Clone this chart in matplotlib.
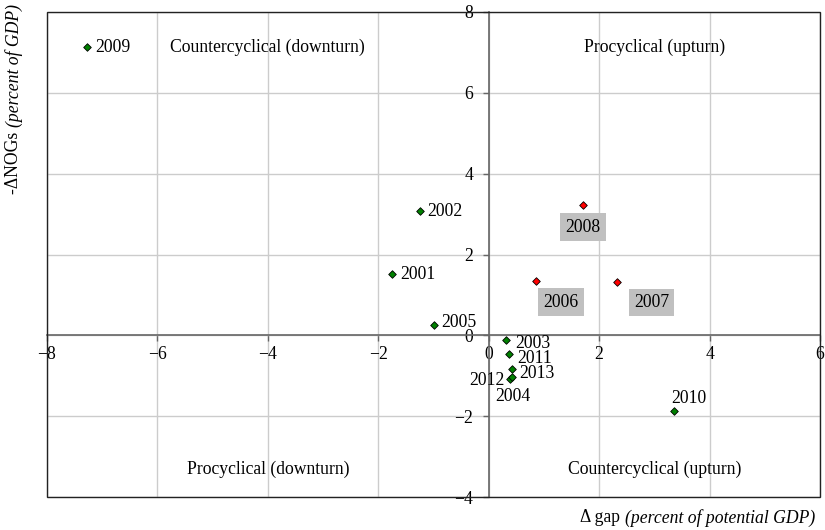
import matplotlib
matplotlib.use("Agg")
import matplotlib.pyplot as plt
from matplotlib.patches import Rectangle
from matplotlib.transforms import offset_copy

plt.rcParams['font.family'] = ['Liberation Serif', 'DejaVu Serif']

FS = 12.7

# data
years_green = ["2009", "2002", "2001", "2005", "2003", "2011", "2013", "2012", "2004", "2010"]
gap_green = [-7.27, -1.25, -1.75, -1.0, 0.32, 0.37, 0.42, 0.38, 0.43, 3.35]
nogs_green = [7.13, 3.07, 1.51, 0.25, -0.12, -0.47, -0.84, -1.08, -1.02, -1.88]

years_red = ["2006", "2007", "2008"]
gap_red = [0.85, 2.33, 1.71]
nogs_red = [1.34, 1.31, 3.22]

x_ticks = [-8, -6, -4, -2, 0, 2, 4, 6]
y_ticks = [-4, -2, 0, 2, 4, 6, 8]

quadrants = [
    ("Countercyclical (downturn)", -4.0, 7.13),
    ("Procyclical (upturn)", 3.0, 7.13),
    ("Procyclical (downturn)", -4.0, -3.32),
    ("Countercyclical (upturn)", 3.0, -3.32),
]

# label placement (pixel offsets, alignment)
green_offsets = {
    "2009": (8, 0, "left"), "2002": (8, 0, "left"), "2001": (8, 0, "left"),
    "2005": (8, 3, "left"), "2003": (9, -3, "left"), "2011": (8, -4, "left"),
    "2013": (7, -4, "left"), "2012": (-5, -2, "right"), "2004": (0, -20, "center"),
    "2010": (-2, 13, "left"),
}
red_offsets = {"2006": (25, -21), "2007": (34, -20), "2008": (0, -22)}

fig = plt.figure(figsize=(8.25, 5.3), dpi=100)
ax = fig.add_axes([47 / 825, 1 - 497 / 530, 773 / 825, 485 / 530])
ax.set_xlim(-8, 6)
ax.set_ylim(-4, 8)
ax.set_xticks(x_ticks)
ax.set_yticks(y_ticks)
ax.set_xticklabels([f"\u2212{abs(t)}" if t < 0 else str(t) for t in x_ticks])
ax.set_yticklabels([f"\u2212{abs(t)}" if t < 0 else str(t) for t in y_ticks])
ax.grid(True, color="#cccccc", lw=1)
ax.set_axisbelow(True)

for side in ["left", "bottom"]:
    ax.spines[side].set_position(("data", 0))
    ax.spines[side].set_color("#666666")
    ax.spines[side].set_linewidth(1.2)
for side in ["top", "right"]:
    ax.spines[side].set_visible(False)
ax.add_patch(Rectangle((0, 0), 1, 1, transform=ax.transAxes, fill=False,
                       ec="#222222", lw=1, clip_on=False, zorder=5))
ax.tick_params(axis="both", labelsize=FS, length=4, color="#666666", width=1)
ax.tick_params(axis="y", pad=7)

ax.scatter(gap_green, nogs_green, marker="D", s=15, c="#008000",
           edgecolors="black", linewidths=0.6, zorder=4)
ax.scatter(gap_red, nogs_red, marker="D", s=15, c="#ff0000",
           edgecolors="black", linewidths=0.6, zorder=4)

for yr, x, y in zip(years_green, gap_green, nogs_green):
    dx, dy, ha = green_offsets[yr]
    ax.annotate(yr, (x, y), xytext=(dx, dy), textcoords="offset pixels",
                ha=ha, va="center", fontsize=FS)

for yr, x, y in zip(years_red, gap_red, nogs_red):
    dx, dy = red_offsets[yr]
    ax.annotate(yr, (x, y), xytext=(dx, dy), textcoords="offset pixels",
                ha="center", va="center", fontsize=FS,
                bbox=dict(boxstyle="square,pad=0.3", fc="#c0c0c0", ec="none"))

for txt, x, y in quadrants:
    ax.text(x, y, txt, ha="center", va="center", fontsize=FS)

# axis titles: plain part + italic part
renderer = fig.canvas.get_renderer()

yl_it = fig.text(14 / 825, 1 - 4 / 530, "(percent of GDP)", style="italic",
                 rotation=90, ha="center", va="top", fontsize=FS)
h = yl_it.get_window_extent(renderer).height
fig.text(14 / 825, 1 - 4 / 530, "-ΔNOGs ", rotation=90, ha="center", va="top",
         fontsize=FS, transform=offset_copy(fig.transFigure, fig=fig, y=-h, units="dots"))

xl_it = fig.text(815 / 825, 1 - 518 / 530, "(percent of potential GDP)", style="italic",
                 ha="right", va="center", fontsize=FS)
w = xl_it.get_window_extent(renderer).width
fig.text(815 / 825, 1 - 518 / 530, "Δ gap ", ha="right", va="center", fontsize=FS,
         transform=offset_copy(fig.transFigure, fig=fig, x=-w, units="dots"))

fig.savefig("out.png", dpi=100)
